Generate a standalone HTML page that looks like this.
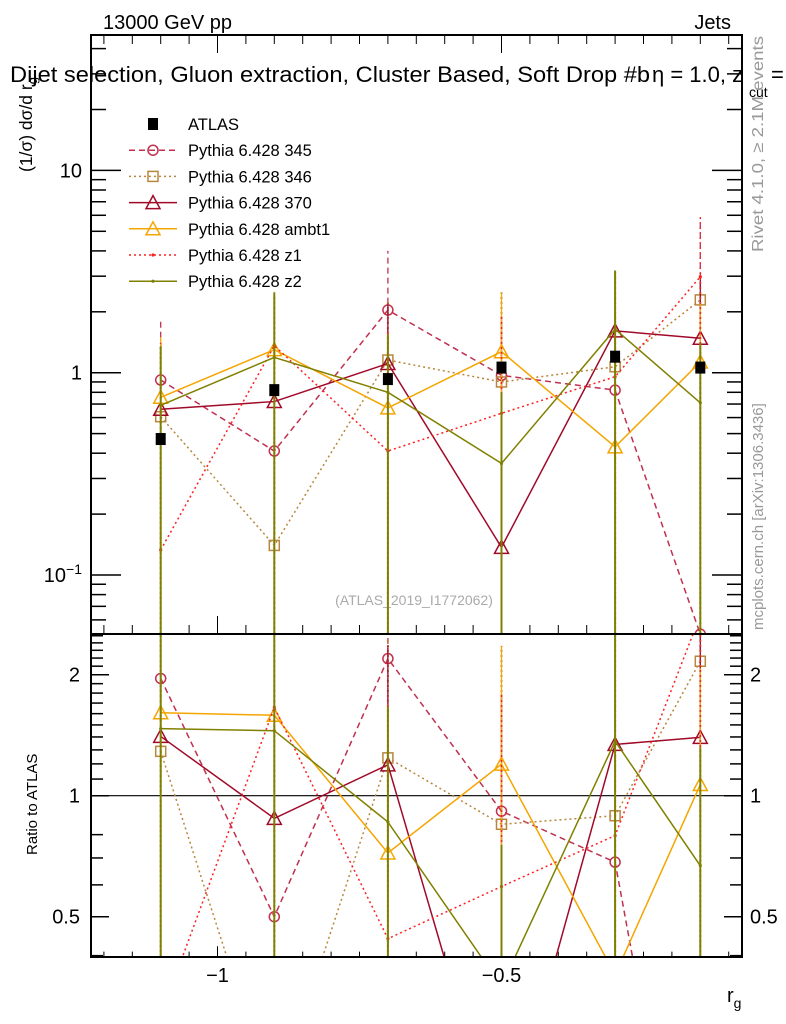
<!DOCTYPE html>
<html><head><meta charset="utf-8"><style>
html,body{margin:0;padding:0;background:#fff;width:786px;height:1024px;overflow:hidden;}
svg{display:block;font-family:"Liberation Sans",sans-serif;overflow:hidden;}
</style></head><body>
<svg id="chart" width="786" height="1024" viewBox="0 0 786 1024" xmlns="http://www.w3.org/2000/svg">
<defs>
<clipPath id="clipMain"><rect x="91" y="35" width="651" height="599"/></clipPath>
<clipPath id="clipRatio"><rect x="91" y="634" width="651" height="323"/></clipPath>
</defs>
<rect x="0" y="0" width="786" height="1024" fill="#fff"/>
<text x="103" y="29" font-size="20">13000 GeV pp</text>
<text x="731" y="29" font-size="20" text-anchor="end">Jets</text>
<text x="10" y="82" font-size="22" textLength="640" lengthAdjust="spacingAndGlyphs">Dijet selection, Gluon extraction, Cluster Based, Soft Drop #b</text>
<text x="652" y="82" font-size="22">η = 1.0, z</text>
<text x="749" y="97" font-size="14">cut</text>
<text x="771" y="82" font-size="22">=</text>
<text transform="translate(32,172) rotate(-90)" font-size="17.5">(1/σ) dσ/d r<tspan font-size="13" dy="5">g</tspan></text>
<text transform="translate(37,855) rotate(-90)" font-size="15">Ratio to ATLAS</text>
<text transform="translate(763,252) rotate(-90)" font-size="16" fill="#999" textLength="216" lengthAdjust="spacingAndGlyphs">Rivet 4.1.0, ≥ 2.1M events</text>
<text transform="translate(763,630) rotate(-90)" font-size="15" fill="#999">mcplots.cern.ch [arXiv:1306.3436]</text>
<text x="414" y="605" font-size="14" fill="#aaa" text-anchor="middle">(ATLAS_2019_I1772062)</text>
<text x="727" y="1002" font-size="20">r<tspan font-size="14" dy="6">g</tspan></text>
<g id="axes"></g>
<g id="marksMain" clip-path="url(#clipMain)"></g>
<g id="marksRatio" clip-path="url(#clipRatio)"></g>
<g id="legend"></g>
<rect x="91" y="35" width="651" height="599" fill="none" stroke="#000" stroke-width="2"/>
<rect x="91" y="634" width="651" height="323" fill="none" stroke="#000" stroke-width="2"/>
</svg>
<script>
const binX = [-1.1, -0.9, -0.7, -0.5, -0.3, -0.15];
const atlasVals = [0.47, 0.82, 0.93, 1.06, 1.2, 1.06];
const p345Vals = [0.92, 0.41, 2.04, 0.97, 0.82, 0.051];
const p346Vals = [0.606, 0.14, 1.155, 0.90, 1.07, 2.29];
const p370Vals = [0.66, 0.72, 1.11, 0.137, 1.61, 1.48];
const ambt1Vals = [0.756, 1.30, 0.67, 1.27, 0.43, 1.13];
const z1Vals = [0.133, 1.36, 0.41, 0.63, 0.955, 2.98];
const z2Vals = [0.69, 1.19, 0.80, 0.356, 1.64, 0.71];
const p345Hi = [1.8, 1.3, 4.0, 1.9, 2.0, 5.8];
const p345Lo = [0.27, 0.12, 0.5, 0.3, 0.2, 0.001];
const p346Hi = [1.4, 2.4, 2.3, 2.5, 3.2, 3.1];
const p370Hi = [1.4, 2.2, 2.2, 1.9, 3.2, 2.9];
const ambt1Hi = [1.5, 1.6, 1.3, 2.5, 3.2, 2.2];
const z1Hi = [1.4, 1.5, 1.6, 1.9, 2.2, 5.9];
const z2Hi = [1.35, 2.5, 1.55, 0.8, 3.2, 1.4];
const allLo = [0.001, 0.001, 0.001, 0.001, 0.001, 0.001];
const xTickMajor = [-1, -0.5];
const xTickLabels = ["−1", "−0.5"];
const yMainTickLabels = ["10", "1", "10"];
const yMainTickVals = [10, 1, 0.1];
const ratioTickVals = [0.5, 1, 2];
const ratioTickLabels = ["0.5", "1", "2"];
const legendLabels = ["ATLAS","Pythia 6.428 345","Pythia 6.428 346","Pythia 6.428 370","Pythia 6.428 ambt1","Pythia 6.428 z1","Pythia 6.428 z2"];

const NS = "http://www.w3.org/2000/svg";
function xs(v){ return 217.5 + (v + 1) * 568; }
function ym(v){ return 372.7 - Math.log10(v) * 202.3; }
function yr(v){ return 795.7 - Math.log2(v) * 121; }
function mk(tag, attrs, parent){ const e = document.createElementNS(NS, tag); for (const k in attrs) e.setAttribute(k, attrs[k]); parent.appendChild(e); return e; }

const axes = document.getElementById('axes');
for (let i = 0; i <= 23; i++) {
  const v = -1.2 + i * 0.05;
  const x = xs(v);
  if (x < 92 || x > 741) continue;
  const major = Math.abs(v + 1) < 1e-6 || Math.abs(v + 0.5) < 1e-6;
  const L = major ? 18 : 9;
  const t1 = mk('line', {x1: x, x2: x, y1: 634, y2: 634 - L, stroke: '#000', 'stroke-width': 1}, axes);
  
  
  const t2 = mk('line', {x1: x, x2: x, y1: 35, y2: 35 + L, stroke: '#000', 'stroke-width': 1}, axes);
  
  
  const t3 = mk('line', {x1: x, x2: x, y1: 957, y2: 957 - L * 0.6, stroke: '#000', 'stroke-width': 1}, axes);
  
  
}
xTickMajor.forEach((v, i) => {
  const t = mk('text', {x: xs(v), y: 982, 'font-size': 20, 'text-anchor': 'middle'}, axes);
  t.textContent = xTickLabels[i];
  
  
});
for (let d = -2; d <= 1; d++) {
  for (let m = 1; m <= 9; m++) {
    const v = m * Math.pow(10, d);
    const y = ym(v);
    if (y < 36 || y > 633) continue;
    const L = m === 1 ? 30 : 15;
    const a = mk('line', {x1: 91, x2: 91 + L, y1: y, y2: y, stroke: '#000', 'stroke-width': 1.5}, axes);
    
    
    const b = mk('line', {x1: 742, x2: 742 - L, y1: y, y2: y, stroke: '#000', 'stroke-width': 1.5}, axes);
    
    
  }
}
yMainTickVals.forEach((v, i) => {
  const t = mk('text', {x: 82, y: ym(v) + 7, 'font-size': 20, 'text-anchor': 'end'}, axes);
  t.textContent = yMainTickLabels[i];
  if (v < 1) { const s = mk('tspan', {'font-size': 14, dy: -8}, t); s.textContent = '−1'; }
  
  
});
const rMinor = [0.4,0.5,0.6,0.7,0.8,1,1.1,1.2,1.3,1.4,1.5,1.6,1.7,1.8,1.9,2,2.1,2.2,2.3,2.4,2.5];
rMinor.forEach(v => {
  const y = yr(v);
  if (y < 635 || y > 956) return;
  const L = ratioTickVals.includes(v) ? 18 : 12;
  const a = mk('line', {x1: 91, x2: 91 + L, y1: y, y2: y, stroke: '#000', 'stroke-width': 1.5}, axes);
  
  
  const b = mk('line', {x1: 742, x2: 742 - L, y1: y, y2: y, stroke: '#000', 'stroke-width': 1.5}, axes);
  
  
});
ratioTickVals.forEach((v, i) => {
  const t = mk('text', {x: 80, y: yr(v) + 7, 'font-size': 20, 'text-anchor': 'end'}, axes);
  t.textContent = ratioTickLabels[i];
  
  
  const t2 = mk('text', {x: 750, y: yr(v) + 7, 'font-size': 20}, axes);
  t2.textContent = ratioTickLabels[i];
  
  
});
const ref = mk('line', {x1: 91, x2: 742, y1: yr(1), y2: yr(1), stroke: '#000', 'stroke-width': 1.2}, axes);



const series = [
  {key:'p345', vals:p345Vals, hi:p345Hi, lo:p345Lo, color:'#c0304f', dash:'6,4', marker:'circle'},
  {key:'p346', vals:p346Vals, hi:p346Hi, lo:allLo, color:'#b8863c', dash:'2,3', marker:'square'},
  {key:'p370', vals:p370Vals, hi:p370Hi, lo:allLo, color:'#a00a28', dash:'', marker:'triangle'},
  {key:'ambt1', vals:ambt1Vals, hi:ambt1Hi, lo:allLo, color:'#f5a500', dash:'', marker:'triangle'},
  {key:'z1', vals:z1Vals, hi:z1Hi, lo:allLo, color:'#ff2020', dash:'2,3', marker:'dot'},
  {key:'z2', vals:z2Vals, hi:z2Hi, lo:allLo, color:'#808000', dash:'', marker:'dot'}
];

function drawMarker(g, type, x, y, color, name) {
  let e;
  if (type === 'circle') e = mk('circle', {cx: x, cy: y, r: 5, fill: 'none', stroke: color, 'stroke-width': 1.5}, g);
  else if (type === 'square') e = mk('rect', {x: x - 5, y: y - 5, width: 10, height: 10, fill: 'none', stroke: color, 'stroke-width': 1.5}, g);
  else if (type === 'triangle') e = mk('path', {d: `M${x},${y-7} L${x+7},${y+6} L${x-7},${y+6} Z`, fill: 'none', stroke: color, 'stroke-width': 1.5}, g);
  else if (type === 'filled') e = mk('rect', {x: x - 5, y: y - 6, width: 10, height: 12, fill: '#000'}, g);
  else e = mk('circle', {cx: x, cy: y, r: 1.6, fill: color}, g);
  
  
}

function drawPanel(gid, yfn, ratio) {
  const g = document.getElementById(gid);
  const top = ratio ? 634 : 35, bot = ratio ? 957 : 634;
  const cl = y => Math.max(top - 5, Math.min(bot + 5, y));
  series.forEach(s => {
    const vals = s.vals.map((v, i) => ratio ? v / atlasVals[i] : v);
    const hi = s.hi.map((v, i) => ratio ? v / atlasVals[i] : v);
    const lo = s.lo.map((v, i) => ratio ? v / atlasVals[i] : v);
    binX.forEach((x, i) => {
      const e = mk('line', {x1: xs(x), x2: xs(x), y1: cl(yfn(lo[i])), y2: cl(yfn(hi[i])), stroke: s.color, 'stroke-width': s.key === 'p346' || s.key === 'z2' ? 2 : 1.3, 'stroke-dasharray': s.dash}, g);
      
      
    });
    const pts = binX.map((x, i) => xs(x) + ',' + yfn(vals[i])).join(' ');
    const pl = mk('polyline', {points: pts, fill: 'none', stroke: s.color, 'stroke-width': 1.5, 'stroke-dasharray': s.dash}, g);
    
    
    binX.forEach((x, i) => drawMarker(g, s.marker, xs(x), yfn(vals[i]), s.color, s.key + '-point'));
  });
  if (!ratio) binX.forEach((x, i) => drawMarker(g, 'filled', xs(x), yfn(atlasVals[i]), '#000', 'atlas-point'));
}
drawPanel('marksMain', ym, false);
drawPanel('marksRatio', yr, true);

const lg = document.getElementById('legend');
const legStyles = [{color:'#000', dash:'', marker:'filled', line:false}].concat(series.map(s => ({color: s.color, dash: s.dash, marker: s.marker, line: true})));
legendLabels.forEach((lab, i) => {
  const y = 124 + i * 26.2;
  const st = legStyles[i];
  if (st.line) {
    const l = mk('line', {x1: 129, x2: 177, y1: y, y2: y, stroke: st.color, 'stroke-width': 1.5, 'stroke-dasharray': st.dash}, lg);
    
    
  }
  drawMarker(lg, st.marker, 153, y, st.color, 'legend-marker');
  const t = mk('text', {x: 188, y: y + 6, 'font-size': 16.5}, lg);
  t.textContent = lab;
  
  
});
</script>
</body></html>
